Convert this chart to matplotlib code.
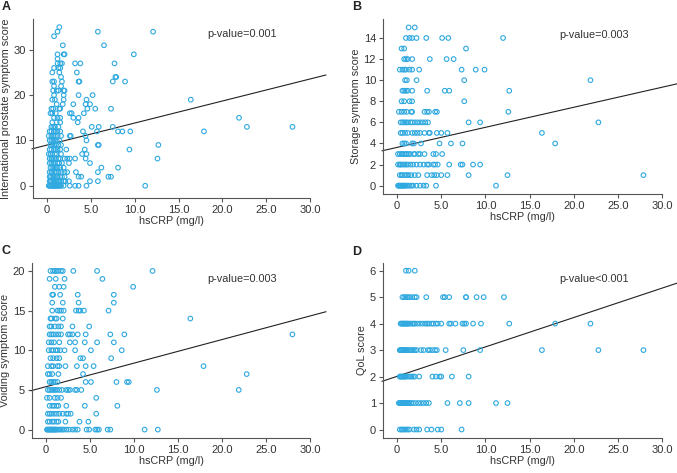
import numpy as np
import matplotlib
matplotlib.use("Agg")
import matplotlib.pyplot as plt

plt.rcParams['font.family'] = ['Liberation Sans', 'DejaVu Sans']

# hsCRP values (mg/l) grouped by score level (index = score)
ipss_crp = [
    [0.2, 0.3, 0.4, 0.5, 0.6, 0.7, 0.8, 0.9, 1.0, 1.1, 1.2, 1.3, 1.5, 1.6, 1.9, 2.6, 3.2, 3.6, 4.5, 11.2],
    [0.3, 0.4, 0.5, 0.7, 0.8, 1.0, 1.1, 1.3, 1.4, 1.6, 1.9, 2.1, 2.5, 4.9, 5.8],
    [0.3, 0.4, 0.6, 0.8, 1.0, 1.2, 1.5, 1.7, 2.0, 3.6, 3.9, 7.0, 7.3],
    [0.3, 0.5, 0.6, 0.9, 1.1, 1.3, 1.6, 2.0, 2.3, 3.3, 5.8],
    [0.4, 0.6, 0.8, 1.0, 1.2, 1.5, 1.9, 6.2, 8.1],
    [0.3, 0.5, 0.7, 0.9, 1.2, 1.4, 1.7, 2.5, 4.9],
    [0.3, 0.5, 0.6, 0.8, 1.0, 1.3, 1.5, 2.0, 2.3, 2.6, 3.2, 4.4, 12.6],
    [0.2, 0.4, 0.6, 0.9, 1.1, 1.6, 4.0, 4.5],
    [0.3, 0.5, 0.8, 1.0, 1.2, 1.5, 2.2, 4.3, 9.4],
    [0.4, 0.6, 0.8, 1.0, 1.3, 1.6, 5.8, 5.9, 12.7],
    [0.3, 0.5, 0.7, 0.9, 1.1, 1.4, 4.5],
    [0.2, 0.5, 0.7, 0.9, 1.2, 1.6, 2.6, 2.7, 4.4],
    [0.3, 0.5, 0.8, 1.0, 1.2, 1.5, 4.1, 5.7, 8.1, 8.6, 9.5, 17.9],
    [0.5, 0.7, 0.9, 1.3, 5.1, 5.9, 7.5, 22.8, 28.0],
    [0.6, 1.1, 1.5, 3.5],
    [0.8, 1.2, 1.5, 3.0, 3.6, 21.9],
    [0.4, 0.6, 1.0, 2.6, 2.8, 4.2],
    [0.5, 0.7, 1.4, 1.5, 4.6, 5.5, 7.3],
    [1.1, 1.8, 3.0, 4.4, 4.9],
    [0.6, 0.9, 1.9, 4.5, 16.4],
    [0.8, 1.9, 3.6, 5.2],
    [0.7, 1.1, 1.3, 1.9, 2.0],
    [0.8, 1.6],
    [0.6, 0.8, 1.7, 3.6, 3.7, 7.5, 8.9],
    [1.6, 7.8, 7.9],
    [0.6, 1.4, 3.4],
    [0.8, 1.3, 1.5],
    [1.2, 1.5, 1.7, 3.2, 3.8, 7.7],
    [1.2],
    [1.2, 1.9, 2.0, 9.9],
    [],
    [1.8, 6.5],
    [],
    [0.8],
    [1.2, 5.8, 12.1],
    [1.4],
]

storage_crp = [
    [0.1, 0.2, 0.3, 0.4, 0.5, 0.6, 0.7, 0.8, 0.9, 1.0, 1.2, 1.4, 1.6, 1.8, 2.2, 2.6, 3.0, 3.3, 4.4, 11.2],
    [0.3, 0.5, 0.6, 0.9, 1.1, 1.3, 1.6, 2.0, 2.4, 3.4, 3.9, 4.2, 4.5, 5.0, 5.7, 8.1, 12.5, 27.9],
    [0.1, 0.3, 0.4, 0.6, 0.8, 1.0, 1.2, 1.5, 1.8, 2.2, 2.6, 3.0, 3.4, 3.6, 4.1, 4.3, 4.6, 5.9, 7.2, 7.4, 8.6, 9.4],
    [0.1, 0.3, 0.5, 0.6, 0.8, 1.0, 1.1, 1.3, 1.5, 1.9, 2.0, 2.4, 2.6, 3.1, 4.1, 4.4, 5.1],
    [0.6, 0.8, 1.0, 1.7, 1.9, 2.7, 4.8, 6.1, 7.4, 17.9],
    [0.4, 0.6, 0.9, 1.2, 1.7, 2.0, 2.3, 2.6, 3.1, 3.6, 3.7, 4.5, 5.0, 5.7, 16.4],
    [0.4, 0.6, 0.8, 1.0, 1.2, 1.5, 1.7, 2.0, 2.3, 2.6, 2.9, 3.2, 3.5, 8.1, 9.4, 22.8],
    [0.2, 0.5, 0.8, 1.1, 1.6, 1.7, 3.1, 3.4, 3.6, 4.3, 4.5, 12.6],
    [0.5, 0.8, 1.4, 1.7, 7.6],
    [0.6, 0.8, 1.0, 1.2, 1.7, 3.4, 5.4, 5.9, 12.7],
    [0.9, 1.1, 2.2, 7.6, 21.9],
    [0.3, 0.6, 0.8, 1.0, 1.4, 1.7, 2.5, 7.3, 8.9, 9.9],
    [0.8, 1.0, 1.2, 1.7, 3.7, 5.6, 6.4],
    [0.5, 0.8, 7.8],
    [1.0, 1.4, 1.7, 2.2, 3.3, 5.1, 5.8, 12.0],
    [1.3, 2.0],
]

voiding_crp = [
    [0.1, 0.2, 0.3, 0.4, 0.5, 0.6, 0.7, 0.8, 0.9, 1.0, 1.1, 1.2, 1.4, 1.6, 1.8, 2.0, 2.3, 2.6, 3.0, 3.3,
     3.6, 4.6, 4.9, 5.6, 5.8, 6.0, 7.0, 7.3, 11.2, 12.7],
    [0.2, 0.4, 0.7, 0.9, 1.2, 1.4, 2.2, 3.8, 4.8],
    [0.2, 0.4, 0.6, 0.9, 1.2, 1.5, 1.9, 2.3, 2.5, 2.8, 5.7],
    [0.4, 0.7, 0.9, 1.2, 1.4, 2.3, 4.4, 8.1],
    [0.1, 0.4, 1.0, 1.3, 1.7, 5.7],
    [0.2, 0.4, 0.6, 0.8, 1.0, 1.2, 1.5, 1.8, 2.3, 2.5, 2.7, 3.3, 3.5, 4.0, 12.6, 21.9],
    [0.4, 0.6, 0.8, 1.0, 1.3, 4.5, 5.1, 8.0, 9.2, 9.4],
    [0.2, 0.4, 0.7, 1.4, 4.2, 22.8],
    [0.2, 0.6, 0.8, 1.3, 1.5, 2.2, 3.5, 4.5, 5.4, 17.9],
    [0.5, 0.8, 1.2, 1.5, 3.9, 4.2, 7.4],
    [0.3, 0.6, 0.8, 1.1, 1.3, 1.6, 2.1, 3.3, 5.1, 8.6],
    [0.3, 0.6, 0.9, 1.5, 2.7, 3.3, 4.4, 5.8, 7.7],
    [0.4, 0.6, 0.8, 1.1, 1.4, 1.7, 2.5, 2.7, 3.0, 3.6, 4.5, 7.3, 8.9, 28.0],
    [0.4, 0.6, 1.0, 1.4, 1.7, 3.0, 4.9],
    [0.5, 0.6, 1.0, 1.2, 1.9, 16.4],
    [0.7, 1.3, 1.5, 1.7, 2.0, 3.4, 3.7, 3.9, 4.3, 7.1],
    [0.7, 1.9, 3.7, 7.7],
    [0.7, 0.8, 1.6, 3.6, 7.7],
    [1.0, 1.5, 2.0, 9.9],
    [0.4, 1.1, 2.1, 6.4],
    [0.5, 0.8, 1.0, 1.2, 1.4, 1.7, 1.9, 3.1, 5.8, 12.1],
]

qol_crp = [
    [0.3, 0.5, 0.6, 0.8, 1.0, 1.2, 1.4, 1.9, 2.2, 2.5, 3.4, 3.9, 4.6, 5.0, 7.3],
    [0.2, 0.3, 0.4, 0.5, 0.6, 0.7, 0.8, 0.9, 1.0, 1.1, 1.2, 1.3, 1.4, 1.6, 1.8, 2.1, 2.4, 2.7, 3.0, 3.3,
     3.6, 5.7, 7.1, 8.1, 11.2, 12.5],
    [0.3, 0.4, 0.5, 0.6, 0.7, 0.8, 0.9, 1.0, 1.2, 1.4, 1.6, 1.8, 2.0, 2.5, 4.0, 4.4, 4.8, 5.0, 6.2, 8.1],
    [0.3, 0.4, 0.5, 0.6, 0.7, 0.8, 0.9, 1.0, 1.1, 1.2, 1.4, 1.6, 1.8, 2.0, 2.2, 2.7, 3.0, 3.5, 3.7, 4.0,
     4.3, 4.5, 5.5, 7.5, 9.4, 16.4, 22.8, 27.9],
    [0.4, 0.5, 0.6, 0.7, 0.8, 0.9, 1.0, 1.1, 1.2, 1.3, 1.5, 1.7, 1.9, 2.0, 2.3, 2.6, 2.9, 3.2, 3.4, 3.6,
     3.9, 4.1, 4.4, 4.6, 5.0, 5.9, 6.1, 6.6, 7.4, 7.6, 7.8, 8.6, 9.5, 12.7, 17.9, 21.9],
    [0.6, 0.8, 1.0, 1.2, 1.4, 1.7, 2.0, 2.2, 3.3, 5.2, 5.4, 5.9, 7.8, 7.8, 9.0, 9.8, 12.1],
    [1.0, 1.3, 2.0],
]

# regression lines (intercept, slope)
fit_ipss = (8.98, 0.486)
fit_storage = (3.63, 0.19)
fit_voiding = (5.41, 0.297)
fit_qol = (2.01, 0.111)

xticks = [0, 5, 10, 15, 20, 25, 30]
xtick_labels = ['0', '5.0', '10.0', '15.0', '20.0', '25.0', '30.0']

W, H = 677, 473
fig = plt.figure(figsize=(W / 100, H / 100), dpi=100)

point_color = '#2fa9e0'
axis_color = '#555555'
text_color = '#333333'


def px_rect(left, top, right, bottom):
    return [left / W, 1 - bottom / H, (right - left) / W, (bottom - top) / H]


def panel(rect, levels, fit, ylabel, ylim, yticks, ptext, ptext_xy):
    ax = fig.add_axes(rect)
    xs, ys = [], []
    for score, vals in enumerate(levels):
        xs.extend(vals)
        ys.extend([score] * len(vals))
    ax.scatter(xs, ys, s=11, facecolors='none', edgecolors=point_color,
               linewidths=0.8, clip_on=False, zorder=3)
    xl = np.array([-1.7, 31.8])
    ax.plot(xl, fit[0] + fit[1] * xl, color='#222222', lw=0.8, clip_on=False)
    ax.set_xlim(-1.6, 30)
    ax.set_ylim(*ylim)
    ax.set_xticks(xticks)
    ax.set_xticklabels(xtick_labels)
    ax.set_yticks(yticks)
    for s in ['top', 'right']:
        ax.spines[s].set_visible(False)
    for s in ['left', 'bottom']:
        ax.spines[s].set_color(axis_color)
        ax.spines[s].set_linewidth(0.8)
    ax.tick_params(colors=axis_color, labelcolor=text_color, labelsize=8,
                   length=3, width=0.8, pad=2)
    ax.set_xlabel('hsCRP (mg/l)', fontsize=7.8, color=text_color, labelpad=1)
    ax.set_ylabel(ylabel, fontsize=7.8, color=text_color, labelpad=2)
    ax.text(ptext_xy[0] / W, 1 - ptext_xy[1] / H, ptext, transform=fig.transFigure,
            fontsize=7.8, color=text_color, va='center', ha='left')
    return ax


panel(px_rect(33, 19, 310, 198), ipss_crp, fit_ipss,
      'International prostate symptom score', (-2.7, 36.8), [0, 10, 20, 30],
      'p-value=0.001', (207, 34))
panel(px_rect(383, 19, 662, 194), storage_crp, fit_storage,
      'Storage symptom score', (-0.79, 15.8), list(range(0, 15, 2)),
      'p-value=0.003', (559, 35))
panel(px_rect(32, 263, 310, 438), voiding_crp, fit_voiding,
      'Voiding symptom score', (-1.06, 21.0), [0, 5, 10, 15, 20],
      'p-value=0.003', (207, 279))
panel(px_rect(383, 263, 662, 438), qol_crp, fit_qol,
      'QoL score', (-0.32, 6.29), list(range(0, 7)),
      'p-value<0.001', (559, 279))

for letter, x, y in [('A', 2, 1), ('B', 352, 1), ('C', 2, 245), ('D', 352, 246)]:
    fig.text(x / W, 1 - y / H, letter, fontsize=9, fontweight='bold',
             color='#222222', va='top', ha='left')

fig.savefig('out.png', dpi=100)
